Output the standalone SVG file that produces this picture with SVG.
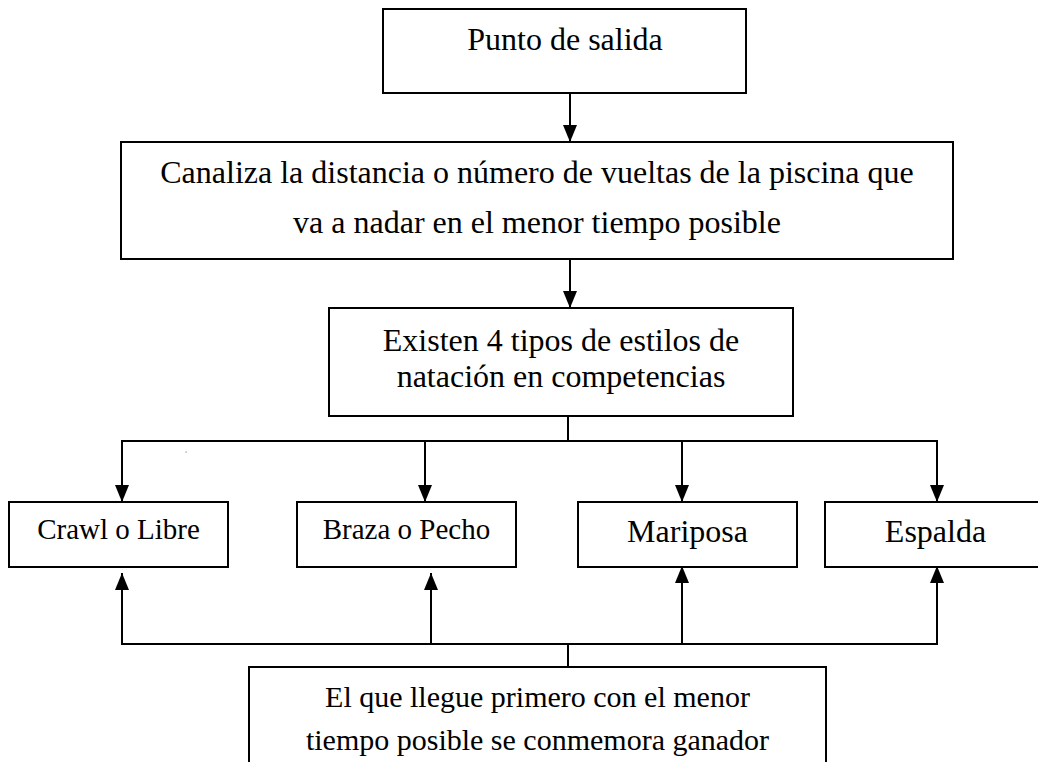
<svg xmlns="http://www.w3.org/2000/svg" width="1038" height="762" viewBox="0 0 1038 762">
  <style>
    .box { fill: #ffffff; stroke: #000000; stroke-width: 2; }
    .t { font-family: "Liberation Serif", "Times New Roman", serif; fill: #000000; text-anchor: middle; }
    .t32 { font-size: 32px; }
    .t30 { font-size: 30px; }
    .t29 { font-size: 29px; }
    .ln { fill: none; stroke: #000000; stroke-width: 2; }
  </style>
  <defs>
    <marker id="ah" markerUnits="userSpaceOnUse" markerWidth="17" markerHeight="14" refX="17" refY="7" orient="auto">
      <path d="M0,0 L17,7 L0,14 z" fill="#000000"/>
    </marker>
  </defs>
  <rect x="0" y="0" width="1038" height="762" fill="#ffffff"/>

  <g id="connectors">
    <line class="ln" x1="570" y1="93" x2="570" y2="142" marker-end="url(#ah)"/>
    <line class="ln" x1="570" y1="259" x2="570" y2="308" marker-end="url(#ah)"/>
    <polyline class="ln" points="568,416 568,441"/>
    <polyline class="ln" points="122,441 937,441"/>
    <line class="ln" x1="122" y1="440" x2="122" y2="502" marker-end="url(#ah)"/>
    <line class="ln" x1="425" y1="440" x2="425" y2="502" marker-end="url(#ah)"/>
    <line class="ln" x1="682" y1="440" x2="682" y2="502" marker-end="url(#ah)"/>
    <line class="ln" x1="937" y1="440" x2="937" y2="502" marker-end="url(#ah)"/>
    <polyline class="ln" points="568,667 568,644"/>
    <polyline class="ln" points="122,644 937,644"/>
    <line class="ln" x1="122" y1="645" x2="122" y2="573" marker-end="url(#ah)"/>
    <line class="ln" x1="431" y1="645" x2="431" y2="573" marker-end="url(#ah)"/>
    <line class="ln" x1="682" y1="645" x2="682" y2="566" marker-end="url(#ah)"/>
    <line class="ln" x1="937" y1="645" x2="937" y2="566" marker-end="url(#ah)"/>
  </g>

  <g id="n-punto">
    <rect class="box" x="383" y="9" width="363" height="84"/>
    <text class="t t32" x="565" y="50">Punto de salida</text>
  </g>

  <g id="n-canaliza">
    <rect class="box" x="121" y="142" width="832" height="117"/>
    <text class="t t32" x="537" y="183">Canaliza la distancia o número de vueltas de la piscina que</text>
    <text class="t t32" x="537" y="233">va a nadar en el menor tiempo posible</text>
  </g>

  <g id="n-existen">
    <rect class="box" x="329" y="308" width="464" height="108"/>
    <text class="t t32" x="561" y="351">Existen 4 tipos de estilos de</text>
    <text class="t t32" x="561" y="387">natación en competencias</text>
  </g>

  <g id="n-crawl">
    <rect class="box" x="9" y="502" width="219" height="65"/>
    <text class="t t29" x="118.5" y="539">Crawl o Libre</text>
  </g>

  <g id="n-braza">
    <rect class="box" x="297" y="502" width="219" height="65"/>
    <text class="t t29" x="406.5" y="539">Braza o Pecho</text>
  </g>

  <g id="n-mariposa">
    <rect class="box" x="578" y="502" width="219" height="65"/>
    <text class="t t32" x="687.5" y="542">Mariposa</text>
  </g>

  <g id="n-espalda">
    <rect class="box" x="825" y="502" width="221" height="65"/>
    <text class="t t32" x="935.5" y="542">Espalda</text>
  </g>

  <g id="n-ganador">
    <rect class="box" x="249" y="667" width="577" height="110"/>
    <text class="t t30" x="537.5" y="707">El que llegue primero con el menor</text>
    <text class="t t30" x="537.5" y="750">tiempo posible se conmemora ganador</text>
  </g>

  <rect x="185.5" y="451.5" width="1.2" height="1.2" fill="#888888"/>
</svg>
